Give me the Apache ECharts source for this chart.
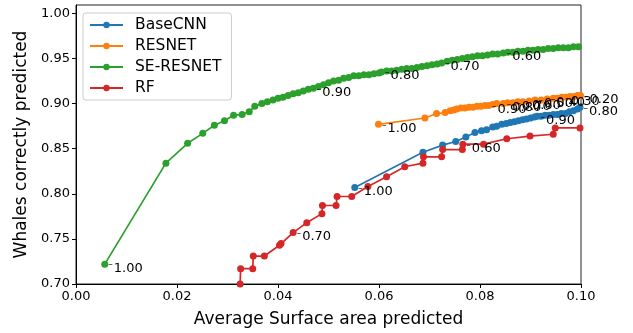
<!DOCTYPE html>
<html>
<head>
<meta charset="utf-8">
<script src="https://cdn.jsdelivr.net/npm/echarts@6/dist/echarts.min.js"></script>
<style>
  html, body { margin: 0; padding: 0; background: #fff; }
  #chart { width: 633px; height: 333px; }
</style>
</head>
<body>
<div id="chart"></div>
<script>
// values
const baseCnnX = [0.0552, 0.0687, 0.0726, 0.0752, 0.0772, 0.0790, 0.0803, 0.0813, 0.0825, 0.0833, 0.0843,
  0.0852, 0.0860, 0.0868, 0.0876, 0.0884, 0.0892, 0.0900, 0.0908, 0.0913, 0.0921, 0.0929, 0.0937, 0.0945,
  0.0953, 0.0961, 0.0969, 0.0977, 0.0985, 0.0993, 0.0998];
const baseCnnY = [0.807, 0.846, 0.854, 0.858, 0.863, 0.868, 0.870, 0.871, 0.874, 0.875, 0.877,
  0.878, 0.879, 0.880, 0.881, 0.882, 0.883, 0.884, 0.885, 0.886, 0.886, 0.887, 0.887, 0.888,
  0.888, 0.889, 0.889, 0.891, 0.892, 0.894, 0.896];
const baseCnnNoteX = [0.0552, 0.0913, 0.0998];
const baseCnnNotes = ['1.00', '0.90', '0.80'];

const resnetX = [0.0599, 0.0691, 0.0714, 0.0731, 0.0741, 0.0748, 0.0754, 0.0762, 0.0770, 0.0778, 0.0786,
  0.0794, 0.0802, 0.0810, 0.0817, 0.0825, 0.0833, 0.0846, 0.0855, 0.0865, 0.0875, 0.0885, 0.0897, 0.0909,
  0.0921, 0.0933, 0.0945, 0.0953, 0.0962, 0.0970, 0.0978, 0.0986, 0.0993, 0.0999];
const resnetY = [0.877, 0.884, 0.889, 0.890, 0.892, 0.893, 0.894, 0.895, 0.895, 0.896, 0.896,
  0.897, 0.897, 0.898, 0.898, 0.899, 0.900, 0.900, 0.901, 0.901, 0.902, 0.902, 0.903, 0.904,
  0.904, 0.905, 0.906, 0.906, 0.907, 0.907, 0.908, 0.908, 0.909, 0.909];
const resnetNoteX = [0.0599, 0.0817, 0.0846, 0.0865, 0.0885, 0.0909, 0.0933, 0.0962, 0.0999];
const resnetNotes = ['1.00', '0.90', '0.80', '0.70', '0.60', '0.50', '0.40', '0.30', '0.20'];

const seResnetX = [0.0057, 0.0178, 0.0221, 0.0251, 0.0274, 0.0294, 0.0312, 0.0329, 0.0343, 0.0354, 0.0368,
  0.0379, 0.0390, 0.0400, 0.0410, 0.0420, 0.0430, 0.0440, 0.0450, 0.0460, 0.0470, 0.0480, 0.0490, 0.0500,
  0.0510, 0.0520, 0.0530, 0.0540, 0.0550, 0.0560, 0.0570, 0.0580, 0.0590, 0.0600, 0.0605, 0.0615, 0.0625,
  0.0635, 0.0645, 0.0655, 0.0665, 0.0675, 0.0685, 0.0695, 0.0705, 0.0715, 0.0724, 0.0735, 0.0745, 0.0755,
  0.0765, 0.0775, 0.0785, 0.0795, 0.0805, 0.0815, 0.0825, 0.0835, 0.0846, 0.0855, 0.0865, 0.0875, 0.0885,
  0.0895, 0.0905, 0.0915, 0.0925, 0.0935, 0.0945, 0.0955, 0.0965, 0.0975, 0.0985, 0.0995];
const seResnetY = [0.722, 0.834, 0.856, 0.867, 0.876, 0.881, 0.887, 0.888, 0.891, 0.897, 0.900,
  0.902, 0.904, 0.906, 0.907, 0.909, 0.911, 0.912, 0.914, 0.916, 0.917, 0.919, 0.921, 0.923,
  0.925, 0.926, 0.928, 0.929, 0.931, 0.931, 0.932, 0.932, 0.933, 0.934, 0.935, 0.936, 0.936,
  0.937, 0.938, 0.939, 0.939, 0.940, 0.941, 0.942, 0.943, 0.944, 0.945, 0.947, 0.948, 0.949,
  0.950, 0.951, 0.952, 0.953, 0.953, 0.954, 0.955, 0.955, 0.956, 0.957, 0.957, 0.958, 0.958,
  0.959, 0.959, 0.960, 0.960, 0.961, 0.961, 0.962, 0.962, 0.962, 0.963, 0.963];
const seResnetNoteX = [0.0057, 0.0470, 0.0605, 0.0724, 0.0846];
const seResnetNotes = ['1.00', '0.90', '0.80', '0.70', '0.60'];

const rfX = [0.0325, 0.0326, 0.0350, 0.0351, 0.0373, 0.0403, 0.0406, 0.0430, 0.0457, 0.0487, 0.0488,
  0.0515, 0.0517, 0.0546, 0.0578, 0.0615, 0.0651, 0.0687, 0.0688, 0.0724, 0.0726, 0.0765, 0.0766,
  0.0807, 0.0853, 0.0899, 0.0945, 0.0949, 0.0998];
const rfY = [0.700, 0.717, 0.717, 0.731, 0.731, 0.743, 0.745, 0.757, 0.768, 0.778, 0.787,
  0.787, 0.797, 0.797, 0.808, 0.819, 0.830, 0.834, 0.841, 0.841, 0.849, 0.849, 0.855,
  0.855, 0.861, 0.864, 0.866, 0.873, 0.873];
const rfNoteX = [0.0430, 0.0766];
const rfNotes = ['0.70', '0.60'];

const xTicks = [0.00, 0.02, 0.04, 0.06, 0.08, 0.10];
const yTicks = [0.70, 0.75, 0.80, 0.85, 0.90, 0.95, 1.00];

function buildData(xs, ys, noteX, notes) {
  return xs.map((x, i) => {
    const k = noteX.indexOf(x);
    if (k < 0) return [x, ys[i]];
    return {
      value: [x, ys[i]],
      // small dash pointing at the marker, then the threshold text
      label: { show: true, formatter: '{d|–}{t|' + notes[k] + '}' }
    };
  });
}

function makeSeries(name, color, data) {
  return {
    name: name,
    type: 'line',
    data: data,
    symbol: 'circle',
    symbolSize: 7,
    showAllSymbol: true,
    color: color,
    lineStyle: { width: 1.7, color: color },
    itemStyle: { color: color },
    emphasis: { disabled: true },
    label: {
      show: false,
      position: 'right',
      distance: 0,
      offset: [0, 4],
      color: '#000',
      fontFamily: 'DejaVu Sans',
      rich: {
        d: { fontSize: 9, lineHeight: 9, verticalAlign: 'top', color: '#000' },
        t: { fontSize: 13, lineHeight: 15, padding: [0, 0, 0, 1], color: '#000' }
      }
    },
    animation: false
  };
}

const chart = echarts.init(document.getElementById('chart'));
chart.setOption({
  backgroundColor: '#fff',
  animation: false,
  textStyle: { fontFamily: 'DejaVu Sans' },
  grid: {
    left: 76, right: 52, top: 5, bottom: 48,
    show: true, borderColor: '#222', borderWidth: 1
  },
  legend: {
    left: 83, top: 13,
    orient: 'vertical',
    itemWidth: 33, itemHeight: 8, itemGap: 5,
    padding: [4, 10, 4, 6],
    backgroundColor: 'rgba(255,255,255,0.8)',
    borderColor: '#ccc', borderWidth: 1, borderRadius: 3,
    textStyle: { fontSize: 15.5, color: '#000', fontFamily: 'DejaVu Sans', padding: [0, 0, 0, 7] },
    data: ['BaseCNN', 'RESNET', 'SE-RESNET', 'RF']
  },
  xAxis: {
    type: 'value',
    min: xTicks[0], max: xTicks[xTicks.length - 1], interval: 0.02,
    name: 'Average Surface area predicted',
    nameLocation: 'middle', nameGap: 27,
    nameTextStyle: { fontSize: 17, color: '#000' },
    axisLine: { onZero: false, lineStyle: { color: '#000' } },
    axisTick: { show: true, length: 4, lineStyle: { color: '#000' } },
    axisLabel: { fontSize: 13, color: '#000', margin: 6, formatter: v => v.toFixed(2) },
    splitLine: { show: false }
  },
  yAxis: {
    type: 'value',
    min: yTicks[0], max: 1.0093, interval: 0.05,
    name: 'Whales correctly predicted',
    nameLocation: 'middle', nameGap: 44,
    nameTextStyle: { fontSize: 17, color: '#000' },
    axisLine: { onZero: false, lineStyle: { color: '#000' } },
    axisTick: { show: true, length: 4, lineStyle: { color: '#000' } },
    axisLabel: { fontSize: 13, color: '#000', margin: 6, formatter: v => v.toFixed(2), showMaxLabel: false },
    splitLine: { show: false }
  },
  series: [
    makeSeries('BaseCNN', '#1f77b4', buildData(baseCnnX, baseCnnY, baseCnnNoteX, baseCnnNotes)),
    makeSeries('RESNET', '#ff7f0e', buildData(resnetX, resnetY, resnetNoteX, resnetNotes)),
    makeSeries('SE-RESNET', '#2ca02c', buildData(seResnetX, seResnetY, seResnetNoteX, seResnetNotes)),
    makeSeries('RF', '#d62728', buildData(rfX, rfY, rfNoteX, rfNotes))
  ]
});
</script>
</body>
</html>
